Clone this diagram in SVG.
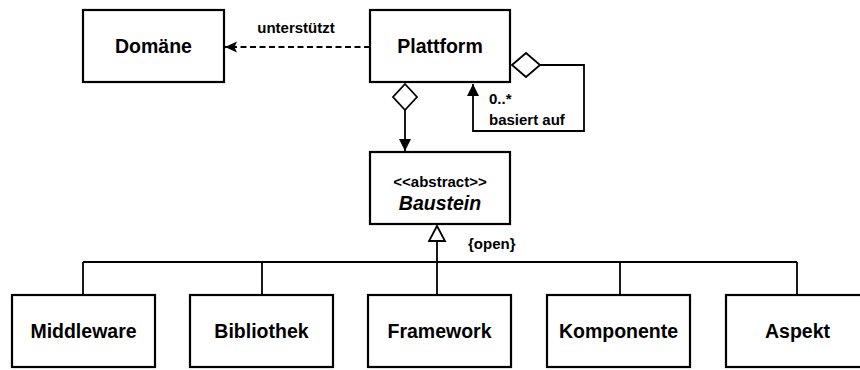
<svg xmlns="http://www.w3.org/2000/svg" width="860" height="370" viewBox="0 0 860 370">
<style>
.box{fill:#fff;stroke:#000;stroke-width:2.2}
.t{font-family:"Liberation Sans",Arial,sans-serif;font-weight:bold;font-size:19.5px;text-anchor:middle;fill:#000}
.l{font-family:"Liberation Sans",Arial,sans-serif;font-weight:bold;font-size:15px;fill:#000}
.c{fill:none;stroke:#000;stroke-width:1.8}
</style>
<defs>
<marker id="filled" markerWidth="16" markerHeight="16" refX="13" refY="8" orient="auto" markerUnits="userSpaceOnUse">
<path d="M13,8 L1,2 L1,14 Z" fill="#000"/>
</marker>
<marker id="dep" markerWidth="14" markerHeight="14" refX="13" refY="7" orient="auto" markerUnits="userSpaceOnUse">
<path d="M13,7 L1,1.5 L3.5,7 L1,12.5 Z" fill="#000"/>
</marker>
</defs>
<rect width="860" height="370" fill="#fff"/>
<g id="connectors">
<line class="c" x1="370" y1="47" x2="225" y2="47" stroke-dasharray="6,3.5" marker-end="url(#dep)"/>
<path class="c" d="M405,84 L417,97 L405,110 L393,97 Z" fill="#fff"/>
<line class="c" x1="405" y1="110" x2="405" y2="151" marker-end="url(#filled)"/>
<path class="c" d="M512,65 L526,53 L540,65 L526,77 Z" fill="#fff"/>
<polyline class="c" points="540,65 584,65 584,131 473,131 473,84" marker-end="url(#filled)"/>
<path class="c" d="M437,226 L445,241 L429,241 Z" fill="#fff"/>
<line class="c" x1="437" y1="241" x2="437" y2="295"/>
<line class="c" x1="83" y1="262" x2="797" y2="262"/>
<line class="c" x1="83" y1="262" x2="83" y2="295"/>
<line class="c" x1="262" y1="262" x2="262" y2="295"/>
<line class="c" x1="620" y1="262" x2="620" y2="295"/>
<line class="c" x1="797" y1="262" x2="797" y2="295"/>
<text class="l" x="296" y="33" text-anchor="middle">unterstützt</text>
<text class="l" x="489" y="104">0..*</text>
<text class="l" x="489" y="125">basiert auf</text>
<text class="l" x="468" y="249">{open}</text>
</g>
<g id="domaene"><rect class="box" x="83" y="10" width="141" height="72"/><text class="t" x="153.5" y="53">Domäne</text></g>
<g id="plattform"><rect class="box" x="370" y="10" width="140" height="72"/><text class="t" x="440" y="53">Plattform</text></g>
<g id="baustein"><rect class="box" x="370" y="152" width="140" height="72"/>
<text class="l" x="440" y="187" text-anchor="middle">&lt;&lt;abstract&gt;&gt;</text>
<text class="t" x="440" y="210" font-style="italic">Baustein</text></g>
<g id="middleware"><rect class="box" x="12" y="295" width="143" height="72"/><text class="t" x="83.5" y="338">Middleware</text></g>
<g id="bibliothek"><rect class="box" x="190" y="295" width="143" height="72"/><text class="t" x="261.5" y="338">Bibliothek</text></g>
<g id="framework"><rect class="box" x="368" y="295" width="143" height="72"/><text class="t" x="439.5" y="338">Framework</text></g>
<g id="komponente"><rect class="box" x="547" y="295" width="143" height="72"/><text class="t" x="618.5" y="338">Komponente</text></g>
<g id="aspekt"><rect class="box" x="726" y="295" width="143" height="72"/><text class="t" x="797.5" y="338">Aspekt</text></g>
</svg>
